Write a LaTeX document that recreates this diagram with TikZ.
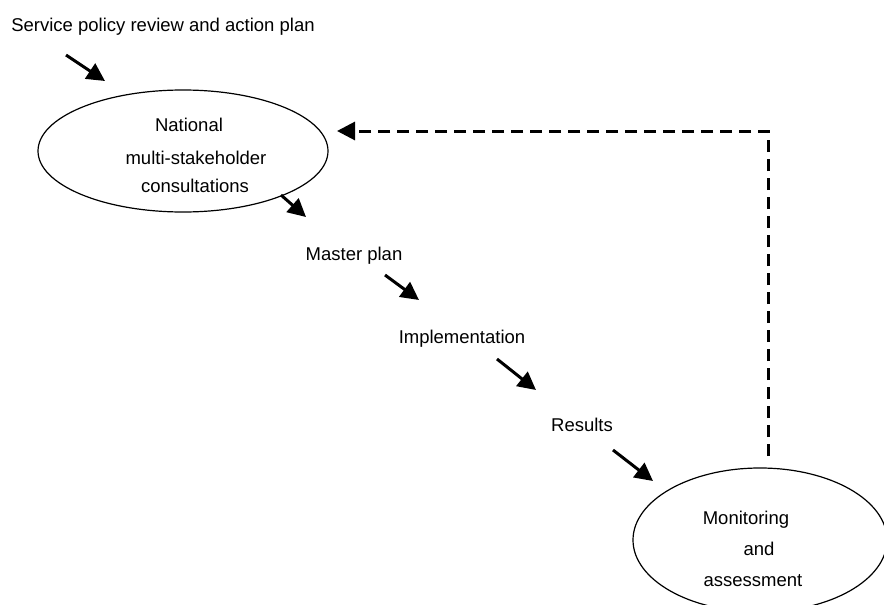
\documentclass[tikz,border=0pt]{standalone}
\usepackage{fontspec}
\setmainfont{Liberation Sans}
\usetikzlibrary{arrows.meta,shapes.geometric}
\begin{document}
\begin{tikzpicture}[x=1pt,y=-1pt,
  lbl/.style={inner sep=0pt,font=\fontsize{18.5}{22}\selectfont},
  oval/.style={draw,ellipse,line width=1.2pt,inner sep=0pt},
  flow/.style={line width=3pt,-{Triangle[length=18pt,width=18pt]}},
  back/.style={line width=3pt,dash pattern=on 12pt off 7pt,-{Triangle[length=18pt,width=18pt]}}]
\useasboundingbox (0,0) rectangle (884,605);
% ellipses
\node[oval,minimum width=290pt,minimum height=122pt] (e1) at (183,151) {};
\node[oval,minimum width=254pt,minimum height=144pt] (e2) at (760,540) {};
% texts
\node[lbl] (t0) at (163,27) {Service policy review and action plan};
\node[lbl,align=center,font=\fontsize{18.5}{22}\selectfont] (t1) at (195,155)
  {\hspace*{-12pt}National\\[11pt]\hspace*{2pt}multi-stakeholder\\[6pt]consultations};
\node[lbl] (t2) at (354,256) {Master plan};
\node[lbl] (t3) at (462,339) {Implementation};
\node[lbl] (t4) at (582,425) {Results};
\node[lbl,align=center,font=\fontsize{18.5}{31}\selectfont] (t5) at (753,549)
  {\hspace*{-14pt}Monitoring\\\hspace*{12pt}and\\assessment};
% arrow end points
\coordinate (a1s) at (66,55);   \coordinate (a1e) at (105,81);
\coordinate (a2s) at (281,195); \coordinate (a2e) at (306,217);
\coordinate (a3s) at (385,275); \coordinate (a3e) at (419,300);
\coordinate (a4s) at (497,359); \coordinate (a4e) at (536,390);
\coordinate (a5s) at (613,450); \coordinate (a5e) at (653,481);
\coordinate (ds) at (768,456);  \coordinate (de) at (337,131);
\draw[flow] (a1s) -- (a1e);
\draw[flow] (a2s) -- (a2e);
\draw[flow] (a3s) -- (a3e);
\draw[flow] (a4s) -- (a4e);
\draw[flow] (a5s) -- (a5e);
\draw[back] (ds) |- (de);
\end{tikzpicture}
\end{document}
